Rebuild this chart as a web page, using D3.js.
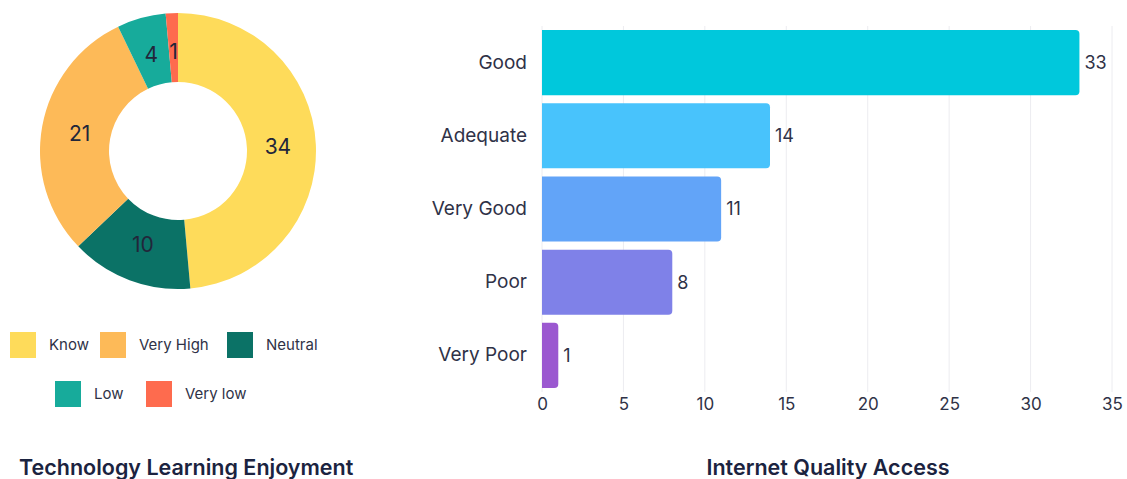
<!DOCTYPE html>
<html>
<head>
<meta charset="utf-8">
<script src="https://cdn.jsdelivr.net/npm/d3@7"></script>
<style>
  html, body { margin: 0; padding: 0; background: #ffffff; }
  svg { display: block; font-family: Inter, "Noto Sans", sans-serif; }
</style>
</head>
<body>
<svg id="chart" width="1127" height="479"></svg>
<script>
// Technology Learning Enjoyment (donut)
const enjoyCategories = ["Know", "Neutral", "Very High", "Low", "Very low"];
const enjoyValues = [34, 10, 21, 4, 1];
const enjoyColors = ["#fedb5a", "#0b7266", "#fdba58", "#17ab9b", "#fe6b4e"];
const legendOrder = ["Know", "Very High", "Neutral", "Low", "Very low"];

// Internet Quality Access (horizontal bars)
const qualityCategories = ["Good", "Adequate", "Very Good", "Poor", "Very Poor"];
const qualityValues = [33, 14, 11, 8, 1];
const qualityColors = ["#00c8dc", "#48c3fc", "#62a4f8", "#7f81e8", "#9b58d0"];
const xTicks = [0, 5, 10, 15, 20, 25, 30, 35];

const svg = d3.select("#chart");
const textColor = "#22263a";

// ---------- Donut ----------
const cx = 178, cy = 151, outerR = 138, innerR = 69;
const pie = d3.pie().sort(null).value(d => d.value);
const arcs = pie(enjoyCategories.map((c, i) => ({ name: c, value: enjoyValues[i] })));
const arc = d3.arc().innerRadius(innerR).outerRadius(outerR);
const labelArc = d3.arc().innerRadius(100).outerRadius(100);
const colorOf = d3.scaleOrdinal().domain(enjoyCategories).range(enjoyColors);

const donut = svg.append("g").attr("transform", `translate(${cx},${cy})`);
donut.selectAll("path").data(arcs).join("path")
  .attr("d", arc)
  .attr("fill", d => colorOf(d.data.name));
donut.selectAll("text").data(arcs).join("text")
  .attr("transform", d => `translate(${labelArc.centroid(d)})`)
  .attr("text-anchor", "middle")
  .attr("dy", "0.36em")
  .attr("font-size", 21)
  .attr("fill", textColor)
  .text(d => d.data.value);

// Legend
const legendPos = [
  { x: 10, y: 332 }, { x: 100, y: 332 }, { x: 227, y: 332 },
  { x: 55, y: 381 }, { x: 146, y: 381 }
];
const legend = svg.append("g");
legendOrder.forEach((name, i) => {
  const p = legendPos[i];
  const g = legend.append("g").attr("transform", `translate(${p.x},${p.y})`);
  g.append("rect").attr("width", 26).attr("height", 26).attr("fill", colorOf(name));
  g.append("text").attr("x", 39).attr("y", 13).attr("dy", "0.35em")
    .attr("font-size", 15).attr("fill", "#2f3247").text(name);
});

svg.append("text")
  .attr("x", 19).attr("y", 475)
  .attr("font-size", 21.5).attr("font-weight", 600)
  .attr("fill", "#1b2340")
  .text("Technology Learning Enjoyment");

// ---------- Bars ----------
const x = d3.scaleLinear().domain([0, 35]).range([542, 1112]);
const y = d3.scaleBand().domain(qualityCategories).range([26, 392])
  .paddingInner(0.11).paddingOuter(0.055);

const bars = svg.append("g");

// vertical gridlines
bars.append("g").selectAll("line").data(xTicks).join("line")
  .attr("x1", d => x(d)).attr("x2", d => x(d))
  .attr("y1", 26).attr("y2", 392)
  .attr("stroke", "#ececf0").attr("stroke-width", 1);

// x axis
const xAxis = d3.axisBottom(x).tickValues(xTicks).tickSize(0).tickPadding(0);
const xg = bars.append("g").attr("transform", "translate(0,398)").call(xAxis);
xg.select(".domain").remove();
xg.selectAll("text").attr("font-size", 17).attr("fill", "#2f3247")
  .attr("font-family", "Inter, 'Noto Sans', sans-serif").attr("dy", "0.71em");

// y axis
const yAxis = d3.axisLeft(y).tickSize(0).tickPadding(15);
const yg = bars.append("g").attr("transform", "translate(542,0)").call(yAxis);
yg.select(".domain").remove();
yg.selectAll("text").attr("font-size", 19).attr("fill", "#2f3247")
  .attr("font-family", "Inter, 'Noto Sans', sans-serif");

// bars with rounded right end
const r = 4;
function barPath(v, cat) {
  const x0 = x(0), x1 = x(v), y0 = y(cat), h = y.bandwidth();
  const rr = Math.min(r, (x1 - x0) / 2);
  return `M${x0},${y0}H${x1 - rr}Q${x1},${y0} ${x1},${y0 + rr}V${y0 + h - rr}Q${x1},${y0 + h} ${x1 - rr},${y0 + h}H${x0}Z`;
}
bars.append("g").selectAll("path").data(qualityCategories).join("path")
  .attr("d", (c, i) => barPath(qualityValues[i], c))
  .attr("fill", (c, i) => qualityColors[i]);

bars.append("g").selectAll("text").data(qualityCategories).join("text")
  .attr("x", (c, i) => x(qualityValues[i]) + 5)
  .attr("y", c => y(c) + y.bandwidth() / 2)
  .attr("dy", "0.36em")
  .attr("font-size", 18).attr("fill", "#2f3247")
  .text((c, i) => qualityValues[i]);

svg.append("text")
  .attr("x", 828).attr("y", 475)
  .attr("text-anchor", "middle")
  .attr("font-size", 21.5).attr("font-weight", 600)
  .attr("fill", "#1b2340")
  .text("Internet Quality Access");
</script>
</body>
</html>
